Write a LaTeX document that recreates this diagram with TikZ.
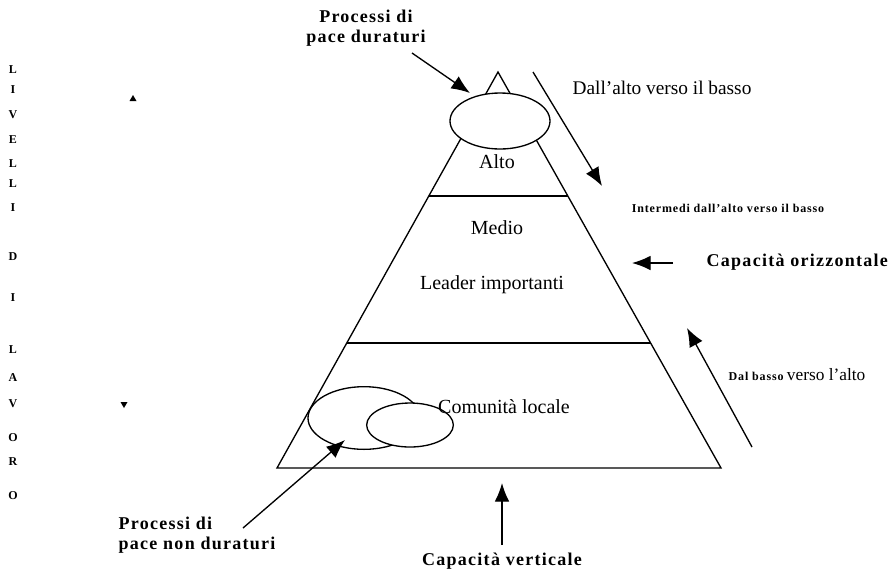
\documentclass[tikz,border=0pt]{standalone}
\usepackage{fontspec}
\setmainfont{Liberation Serif}
\newfontfamily\widefont[LetterSpace=7]{Liberation Serif}
\usepackage{tikz}
\usetikzlibrary{arrows.meta,calc,positioning,shapes.geometric}
\tikzset{
        level/.style = {font=\fontsize{15}{18}\selectfont},
        side/.style = {font=\fontsize{14.5}{17}\selectfont},
        heavy/.style = {font=\widefont\bfseries\fontsize{13.5}{15}\selectfont},
        small/.style = {font=\widefont\bfseries\fontsize{9}{11}\selectfont},
        letter/.style = {font=\bfseries\fontsize{9}{10}\selectfont, inner sep=0pt},
        blob/.style = {draw, ellipse, fill=white, line width=1pt, inner sep=0pt},
        arrow/.style={draw, line width=1pt, -{Latex[length=14pt,width=11pt]}},
    }

\begin{document}
\begin{tikzpicture}[x=0.75pt,y=-0.75pt]
    \useasboundingbox (0,0) rectangle (891,569);

    % pyramid
    \coordinate (apex) at (498,72);
    \coordinate (bl) at (277,468);
    \coordinate (br) at (721,468);
    \draw[line width=1pt] (apex) -- (bl) -- (br) -- cycle;
    \draw[line width=1pt] ($ (apex)!0.313!(bl) $) -- ($ (apex)!0.313!(br) $);
    \draw[line width=1pt] ($ (apex)!0.684!(bl) $) -- ($ (apex)!0.684!(br) $);

    \node[blob, minimum width=75pt, minimum height=42pt] (top) at (500,121) {};
    \node[blob, minimum width=84pt, minimum height=47pt] (big) at (364,418) {};
    \node[blob, minimum width=65pt, minimum height=33pt] (little) at (410,425) {};

    \node[level] (alto) at (497,162) {Alto};
    \node[level] (medio) at (497,228) {Medio};
    \node[level] (leader) at (492,285) {Leader importanti};
    \node[level] (comun) at (504,407) {Comunità locale};

    % labels round the pyramid
    \node[heavy, align=center] (dur) at (366,28) {Processi di\\pace duraturi};
    \node[heavy, align=left, anchor=west] (nondur) at (114,535) {Processi di\\pace non duraturi};
    \node[side] (down) at (662,88) {Dall’alto verso il basso};
    \node[small] (mid) at (728,208) {Intermedi dall’alto verso il basso};
    \node[heavy, anchor=west] (oriz) at (702,262) {Capacità orizzontale};
    \node (up) at (797,375) {{\widefont\bfseries\fontsize{9}{11}\selectfont Dal basso} {\fontsize{13}{15}\selectfont verso l’alto}};
    \node[heavy] (vert) at (502,561) {Capacità verticale};

    \coordinate (dur1) at (412,53);
    \coordinate (dur2) at (470,93);
    \coordinate (down1) at (533,72);
    \coordinate (down2) at (602,186);
    \coordinate (oriz1) at (673,263);
    \coordinate (oriz2) at (632,263);
    \coordinate (up1) at (752,447);
    \coordinate (up2) at (687,328);
    \coordinate (vert1) at (502,545);
    \coordinate (vert2) at (502,483);
    \coordinate (nondur1) at (243,528);
    \coordinate (nondur2) at (345,440);

    \draw[arrow] (dur1) -- (dur2);
    \draw[arrow] (down1) -- (down2);
    \draw[arrow] (oriz1) -- (oriz2);
    \draw[arrow] (up1) -- (up2);
    \draw[arrow] (vert1) -- (vert2);
    \draw[arrow] (nondur1) -- (nondur2);

    % livelli di lavoro
    \foreach \ch/\yy [count=\i] in {L/70,I/90,V/115,E/140,L/164,L/184,I/208,D/257,I/298,L/350,A/378,V/404,O/438,R/462,O/496}
        \node[letter] (w\i) at (13,\yy) {\ch};
    \fill (133,95) -- (136.5,101) -- (129.5,101) -- cycle;
    \fill (124,408) -- (127.5,402) -- (120.5,402) -- cycle;
\end{tikzpicture}
\end{document}
